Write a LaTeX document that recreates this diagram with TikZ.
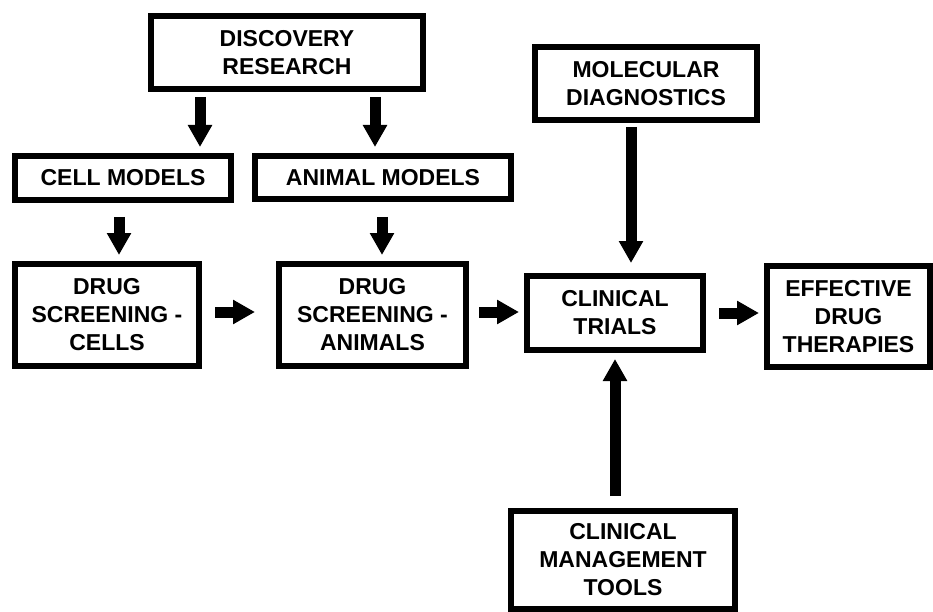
\documentclass[tikz,border=0pt]{standalone}
\usepackage{fontspec}
\setmainfont{Liberation Sans}
\usetikzlibrary{arrows.meta}
\begin{document}
\begin{tikzpicture}[x=1pt,y=-1pt,
  box/.style={draw=black, line width=6pt, fill=white, inner sep=0pt, align=center,
    font=\fontsize{23}{28}\selectfont\bfseries, text=black},
  arr/.style={draw=black, line width=11pt, -{Triangle[width=23pt,length=22pt]}}]
\useasboundingbox (0,0) rectangle (933,612);
\fill[white] (0,0) rectangle (933,612);
% boxes
\node[box, minimum width=272pt, minimum height=73pt] (DR) at (287,52.5) {DISCOVERY\\RESEARCH};
\node[box, minimum width=216pt, minimum height=44pt] (CM) at (123,178) {CELL MODELS};
\node[box, minimum width=256pt, minimum height=43pt] (AM) at (383,177.5) {ANIMAL MODELS};
\node[box, minimum width=184pt, minimum height=102pt] (DSC) at (107,315) {DRUG\\SCREENING -\\CELLS};
\node[box, minimum width=187pt, minimum height=102pt] (DSA) at (372.5,315) {DRUG\\SCREENING -\\ANIMALS};
\node[box, minimum width=176pt, minimum height=74pt] (CT) at (615,313) {CLINICAL\\TRIALS};
\node[box, minimum width=163pt, minimum height=101pt] (EDT) at (848.5,316.5) {EFFECTIVE\\DRUG\\THERAPIES};
\node[box, minimum width=222pt, minimum height=73pt] (MD) at (646,83.5) {MOLECULAR\\DIAGNOSTICS};
\node[box, minimum width=224pt, minimum height=98pt] (CMT) at (623,560) {CLINICAL\\MANAGEMENT\\TOOLS};
% arrow guide coordinates
\coordinate (xa) at (200,0);
\coordinate (xb) at (375,0);
\coordinate (xc) at (119,0);
\coordinate (xd) at (382,0);
\coordinate (xe) at (631,0);
\coordinate (xf) at (615,0);
\coordinate (ya) at (0,312);
\coordinate (yb) at (0,313);
% arrows
\draw[arr, shorten <=5pt, shorten >=6pt] (DR.south -| xa) -- (CM.north -| xa);
\draw[arr, shorten <=5pt, shorten >=6pt] (DR.south -| xb) -- (AM.north -| xb);
\draw[arr, shorten <=14pt, shorten >=6pt] (CM.south -| xc) -- (DSC.north -| xc);
\draw[arr, shorten <=15pt, shorten >=6pt] (AM.south -| xd) -- (DSA.north -| xd);
\draw[arr, shorten <=13pt, shorten >=21pt] (DSC.east |- ya) -- (DSA.west |- ya);
\draw[arr, shorten <=10pt, shorten >=5pt] (DSA.east |- ya) -- (CT.west |- ya);
\draw[arr, shorten <=13pt, shorten >=5pt] (CT.east |- yb) -- (EDT.west |- yb);
\draw[arr, shorten <=4pt, shorten >=10pt] (MD.south -| xe) -- (CT.north -| xe);
\draw[arr, shorten <=12pt, shorten >=6pt] (CMT.north -| xf) -- (CT.south -| xf);
\end{tikzpicture}
\end{document}
